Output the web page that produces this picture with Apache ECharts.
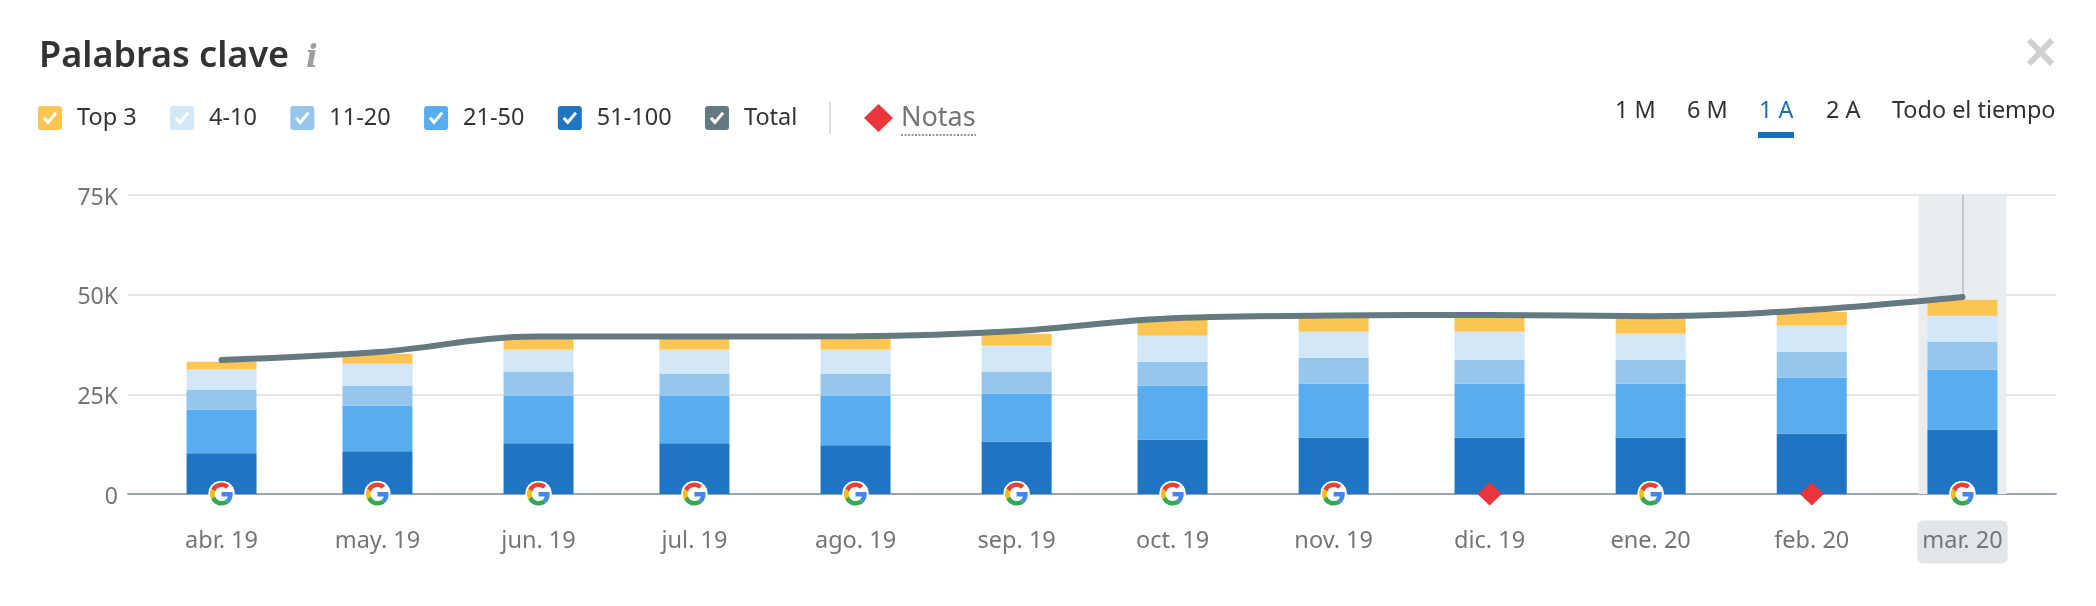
<!DOCTYPE html>
<html>
<head>
<meta charset="utf-8">
<style>html,body{margin:0;padding:0;background:#fff}#c{width:2096px;height:606px}</style>
<script src="https://cdn.jsdelivr.net/npm/echarts@6/dist/echarts.min.js"></script>
</head>
<body>
<div id="c"></div>
<script>
const dates = ['2019-04-01','2019-05-01','2019-06-01','2019-07-01','2019-08-01','2019-09-01','2019-10-01','2019-11-01','2019-12-01','2020-01-01','2020-02-01','2020-03-01'];
const monthLabels = ['abr. 19','may. 19','jun. 19','jul. 19','ago. 19','sep. 19','oct. 19','nov. 19','dic. 19','ene. 20','feb. 20','mar. 20'];
const top3 = [2000,2500,3000,3000,3000,3000,4000,3500,3500,3700,3500,4000];
const pos4to10 = [5000,5500,5500,6000,6000,6500,6500,6500,7000,6500,6500,6500];
const pos11to20 = [5000,5000,6000,5500,5500,5500,6000,6500,6000,6000,6500,7000];
const pos21to50 = [11000,11500,12000,12000,12500,12000,13500,13500,13500,13500,14000,15000];
const pos51to100 = [10200,10700,12700,12700,12200,13200,13700,14200,14200,14200,15200,16200];
const total = [33600,35600,39500,39500,39600,40900,44100,44750,44900,44600,46200,49400];
const markers = ['g','g','g','g','g','g','g','g','n','g','n','g'];
const yTicks = [0,25000,50000,75000];
const rangeLabels = ['1 M','6 M','1 A','2 A','Todo el tiempo'];

const FONT = '"Noto Sans", sans-serif';
const GREY = '#757575', DARK = '#333333', BLUE = '#1a6fb5';
const CHECK_ICON = 'path://M3 0H21Q24 0 24 3V21Q24 24 21 24H3Q0 24 0 21V3Q0 0 3 0Z M10 14L7 10.8L4.8 13L10 18.8L19.2 7.8L17 5.8Z';
const gSvg = '<svg xmlns="http://www.w3.org/2000/svg" width="96" height="96" viewBox="-4 -4 56 56"><circle cx="24" cy="24" r="27.5" fill="#fff"/><path fill="#EA4335" d="M24 9.5c3.54 0 6.71 1.22 9.21 3.6l6.85-6.85C35.9 2.38 30.47 0 24 0 14.62 0 6.51 5.38 2.56 13.22l7.98 6.19C12.43 13.72 17.74 9.5 24 9.5z"/><path fill="#4285F4" d="M46.98 24.55c0-1.57-.15-3.09-.38-4.55H24v9.02h12.94c-.58 2.96-2.26 5.48-4.78 7.18l7.73 6c4.51-4.18 7.09-10.36 7.09-17.65z"/><path fill="#FBBC05" d="M10.53 28.59c-.48-1.45-.76-2.99-.76-4.59s.27-3.14.76-4.59l-7.98-6.19C.92 16.46 0 20.12 0 24c0 3.88.92 7.54 2.56 10.78l7.97-6.19z"/><path fill="#34A853" d="M24 48c6.48 0 11.93-2.13 15.89-5.81l-7.73-6c-2.15 1.45-4.92 2.3-8.16 2.3-6.26 0-11.57-4.22-13.47-9.91l-7.98 6.19C6.51 42.62 14.62 48 24 48z"/></svg>';
const G_ICON = 'image://data:image/svg+xml;charset=utf-8,' + encodeURIComponent(gSvg);

const BAR_W = 70, GRID_L = 128, GRID_R = 40, PAGE_W = 2096;
const ts = d => Date.parse(d + 'T00:00:00Z');
const xValues = dates.map(ts);
const pair = arr => arr.map((v, i) => [xValues[i], v]);
const stacked = (name, arr, color) => ({
  name, type: 'bar', stack: 'kw', xAxisIndex: 1, barWidth: BAR_W, z: 3, data: pair(arr),
  itemStyle: {color}, emphasis: {disabled: true}
});
const legendItems = ['Top 3','4-10','11-20','21-50','51-100','Total'];
const last = dates.length - 1;
const xMin = ts('2019-03-14'), xMax = ts('2020-03-19');
// ECharts widens a time axis that carries bars by the bar overflow; narrow it by the same share.
const timeInset = (xMax - xMin) * BAR_W / (PAGE_W - GRID_L - GRID_R) / 2;

const rangeX = [1615, 1687, 1759, 1826, 1892];
const graphics = [
  {type:'text', left:306, top:43, style:{text:'i', font:'italic bold 31px "DejaVu Serif", serif', fill:'#9e9e9e'}},
  {type:'line', shape:{x1:830,y1:102,x2:830,y2:134}, style:{stroke:'#cfd2d4', lineWidth:1.5}},
  {type:'polygon', shape:{points:[[878.5,104],[893,118],[878.5,132],[864,118]]}, style:{fill:'#e8363b'}},
  {type:'text', left:901, top:105, style:{text:'Notas', font:'27px '+FONT, fill:GREY}},
  {type:'line', shape:{x1:901,y1:135,x2:976,y2:135}, style:{stroke:GREY, lineWidth:1.5, lineDash:[2,1.5]}},
  {type:'rect', shape:{x:1758,y:132,width:36,height:6}, style:{fill:BLUE}},
  {type:'line', shape:{x1:2029,y1:40,x2:2052,y2:64}, style:{stroke:'#d0d0d0', lineWidth:6}},
  {type:'line', shape:{x1:2052,y1:40,x2:2029,y2:64}, style:{stroke:'#d0d0d0', lineWidth:6}}
].concat(rangeLabels.map((t, i) => ({
  type:'text', left:rangeX[i], top:100,
  style:{text:t, font:'23.4px '+FONT, fill: t === '1 A' ? BLUE : DARK}
})));

const chart = echarts.init(document.getElementById('c'), null, {renderer:'canvas'});
chart.setOption({
  animation: false,
  backgroundColor: '#fff',
  textStyle: {fontFamily: FONT},
  title: {text:'Palabras clave', left:34, top:34, textStyle:{fontFamily:FONT, fontSize:36, fontWeight:600, color:DARK}},
  legend: {
    left:38, top:106, padding:0, itemWidth:24, itemHeight:24, itemGap:33.4, selectedMode:false,
    textStyle:{fontFamily:FONT, fontSize:23.5, color:DARK, padding:[0,0,0,10]},
    data: legendItems.map(name => ({name, icon:CHECK_ICON}))
  },
  grid: {left:GRID_L, right:GRID_R, top:195, bottom:112},
  xAxis: [
    {
      type:'value', min:xMin, max:xMax, scale:true,
      axisLine:{show:true, onZero:false, lineStyle:{color:'#9aa5ab', width:2}},
      axisTick:{show:false}, splitLine:{show:false}, minorTick:{show:false},
      axisLabel:{
        customValues: xValues, margin:35, hideOverlap:false, showMinLabel:true, showMaxLabel:true,
        formatter: v => {
          const i = xValues.indexOf(v);
          return (i === last ? '{hl|' : '{n|') + monthLabels[i] + '}';
        },
        rich:{
          n:{fontFamily:FONT, fontSize:23.5, color:GREY, padding:[9,5,10,5], lineHeight:26},
          hl:{fontFamily:FONT, fontSize:23.5, color:GREY, padding:[9,5,10,5], lineHeight:26, backgroundColor:'#e3e6e8', borderRadius:6}
        }
      }
    },
    {type:'time', min:xMin + timeInset, max:xMax - timeInset, show:false}
  ],
  yAxis: {
    type:'value', min:0, max:75000, interval:25000,
    axisLine:{show:false}, axisTick:{show:false},
    splitLine:{lineStyle:{color:'#e3e6e8', width:2}},
    axisLabel:{margin:10, fontFamily:FONT, fontSize:23, color:GREY, verticalAlign:'top', lineHeight:6,
      formatter: v => v === 0 ? '0' : (v/1000) + 'K'}
  },
  graphic: graphics,
  series: [
    {name:'band', type:'bar', xAxisIndex:0, barWidth:88, z:1, silent:true,
     data:[[xValues[last], yTicks[yTicks.length-1]]], itemStyle:{color:'#e9edef'}},
    stacked('51-100', pos51to100, '#1f75c1'),
    stacked('21-50', pos21to50, '#57adf0'),
    stacked('11-20', pos11to20, '#95c6ee'),
    stacked('4-10', pos4to10, '#d2e7f7'),
    stacked('Top 3', top3, '#fdc653'),
    {name:'Total', type:'line', xAxisIndex:0, z:5, smooth:0.4, showSymbol:false, symbol:'none',
     data:pair(total), itemStyle:{color:'#647a80'},
     lineStyle:{color:'#647a80', width:6, cap:'round'},
     markLine:{silent:true, symbol:'none', animation:false, label:{show:false},
       lineStyle:{color:'#b4babd', width:1.5, type:'solid'},
       data:[[{coord:[xValues[last], total[last]]},{coord:[xValues[last], yTicks[yTicks.length-1]]}]]}},
    {name:'marks', type:'scatter', xAxisIndex:0, z:6, clip:false, silent:true,
     data: markers.map((m, i) => ({
       value:[xValues[i], 0],
       symbol: m === 'g' ? G_ICON : 'diamond',
       symbolSize: m === 'g' ? 27 : [24,23],
       itemStyle:{color:'#e8363b', opacity:1}
     }))}
  ]
});
</script>
</body>
</html>
